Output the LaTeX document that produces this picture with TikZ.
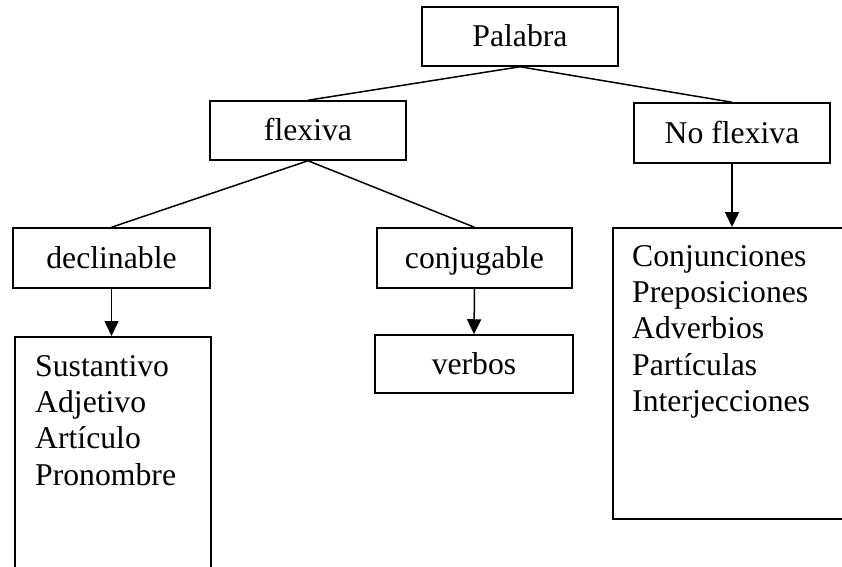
\documentclass[tikz,border=0pt]{standalone}
\usepackage{fontspec}
\setmainfont{Liberation Serif}
\usepackage{xcolor}
\usepackage{tikz}
\usetikzlibrary{arrows.meta}
\definecolor{ink}{HTML}{000000}
\definecolor{paper}{HTML}{FFFFFF}
\newcommand{\wordfont}{\fontsize{31.7}{36.3}\selectfont}
\tikzset{
  caja/.style={draw=ink, line width=1.5pt, inner sep=0pt, font=\wordfont, text=ink,
    text height=21pt, text depth=1pt},
  lista/.style={draw=ink, line width=1.5pt, inner sep=0pt, anchor=north west},
  txt/.style={font=\wordfont, text=ink, align=left, inner sep=0pt, anchor=north west},
  lin/.style={draw=ink, line width=1.5pt},
  flecha/.style={draw=ink, line width=1.5pt, -{Triangle[length=15pt,width=14pt]}},
}

\begin{document}
\begin{tikzpicture}[x=1pt,y=-1pt]
  \fill[paper] (0,0) rectangle (842,566);
  \path[use as bounding box, clip] (0,0) rectangle (842,566);
  % top level
  \node[caja, minimum width=196pt, minimum height=59pt] (palabra) at (520,36.5) {Palabra};
  \node[caja, minimum width=196pt, minimum height=59pt] (flex) at (308,130.5) {flexiva};
  \node[caja, minimum width=196pt, minimum height=60pt] (noflex) at (732,133) {No flexiva};
  \draw[lin] (palabra.south) -- (flex.north);
  \draw[lin] (palabra.south) -- (noflex.north);
  % flexiva branch
  \node[caja, minimum width=197pt, minimum height=60pt] (decl) at (111.5,258) {declinable};
  \node[caja, minimum width=195pt, minimum height=60pt] (conj) at (474.5,258) {conjugable};
  \draw[lin] (flex.south) -- (decl.north);
  \draw[lin] (flex.south) -- (conj.north);
  % word lists
  \node[lista, minimum width=196pt, minimum height=300pt] (declist) at (14,336) {};
  \node[txt] at ([shift={(21,19)}]declist.north west) {Sustantivo\\Adjetivo\\Art\'iculo\\Pronombre};
  \node[caja, minimum width=198pt, minimum height=58pt] (verbos) at (474,364) {verbos};
  \node[lista, minimum width=260pt, minimum height=291pt] (nolist) at (612,227) {};
  \node[txt] at ([shift={(20,18)}]nolist.north west) {Conjunciones\\Preposiciones\\Adverbios\\Part\'iculas\\Interjecciones};
  \draw[flecha] (decl.south) -- (decl.south |- declist.north);
  \draw[flecha] (conj.south) -- (verbos.north);
  \draw[flecha] (noflex.south) -- (noflex.south |- nolist.north);
\end{tikzpicture}
\end{document}
